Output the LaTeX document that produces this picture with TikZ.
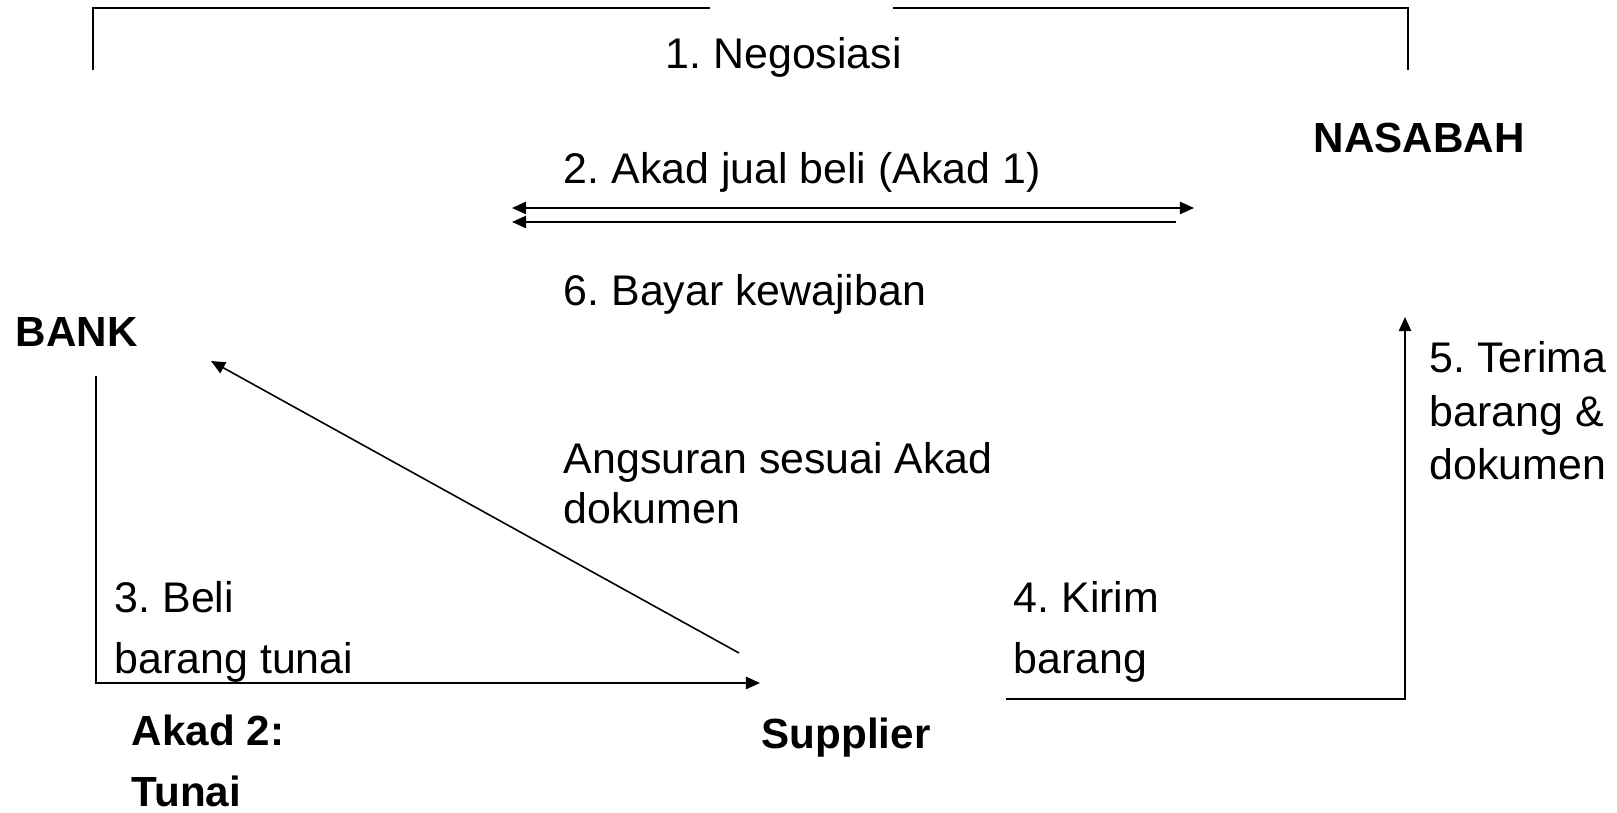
\documentclass[tikz,border=0pt]{standalone}
\usepackage{fontspec}
\setmainfont{Liberation Sans}
\usetikzlibrary{arrows.meta,positioning}
\frenchspacing

\begin{document}
\begin{tikzpicture}[x=0.02cm,y=-0.02cm,>={Triangle[length=8pt,width=7pt]},line width=0.9pt,
    lbl/.style={anchor=base west,inner sep=0pt,align=left,font=\fontsize{24.4}{35}\selectfont},
    party/.style={lbl,font=\fontsize{24}{35}\selectfont\bfseries}]

        \useasboundingbox (0,0) rectangle (1617,813);

        \node[party] (nasabah) at (1313,153) {NASABAH};
        \node[party] (bank) at (15,347) {BANK};
        \node[party] (supplier) at (761,749) {Supplier};
        \node[party] (akad2) at (131,807) {Akad 2:\\Tunai};

        \node[lbl] (nego) at (665,69) {1. Negosiasi};
        \node[lbl] (jual) at (563,184) {2. Akad jual beli (Akad 1)};
        \node[lbl] (bayar) at (563,306) {6. Bayar kewajiban};
        \node[lbl,font=\fontsize{24.4}{29}\selectfont] (angsur) at (563,524) {Angsuran sesuai Akad\\dokumen};
        \node[lbl] (beli) at (114,674) {3. Beli\\barang tunai};
        \node[lbl] (kirim) at (1013,674) {4. Kirim\\barang};
        \node[lbl,font=\fontsize{24.4}{30.5}\selectfont] (terima) at (1429,480) {5. Terima\\barang \&\\dokumen};

        % end points of the connectors
        \coordinate (n1) at (93,70);
        \coordinate (n2) at (710,8);
        \coordinate (n3) at (893,8);
        \coordinate (n4) at (1408,70);
        \coordinate (a1) at (512,208);
        \coordinate (a2) at (1194,208);
        \coordinate (b1) at (512,222);
        \coordinate (b2) at (1176,222);
        \coordinate (s1) at (739,653);
        \coordinate (s2) at (211,361);
        \coordinate (k1) at (96,376);
        \coordinate (k2) at (760,683);
        \coordinate (t1) at (1006,699);
        \coordinate (t2) at (1405,317);

        \draw[line width=1.2pt] (n1) |- (n2);
        \draw[line width=1.2pt] (n3) -| (n4);

        \draw[<->] (a1) -- (a2);
        \draw[<-] (b1) -- (b2);
        \draw[->] (s1) -- (s2);
        \draw[->] (k1) |- (k2);
        \draw[->] (t1) -| (t2);

\end{tikzpicture}
\end{document}
